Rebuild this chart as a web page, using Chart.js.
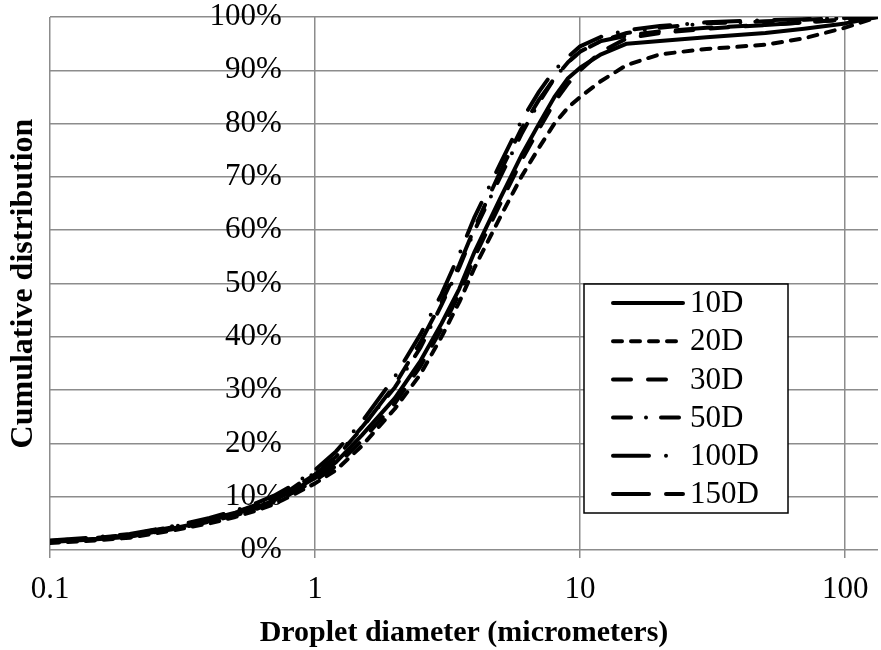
<!DOCTYPE html>
<html>
<head>
<meta charset="utf-8">
<title>Droplet size distribution</title>
<script src="https://cdn.jsdelivr.net/npm/chart.js@4.4.1/dist/chart.umd.min.js"></script>
<style>
  html, body { margin: 0; padding: 0; background: #fff; }
  #wrap { width: 881px; height: 650px; position: relative; }
</style>
</head>
<body>
<div id="wrap"><canvas id="chart"></canvas></div>
<script>
// droplet diameters (micrometers), shared by all series
const diameters = [0.1, 0.15, 0.2, 0.3, 0.4, 0.5, 0.6, 0.7, 0.8, 1, 1.2, 1.5, 2, 2.5, 3, 3.5, 4, 5, 6, 7, 8, 9, 10, 12, 15, 20, 30, 50, 70, 100, 133];

// cumulative distribution (%) for each downstream distance
const d10  = [1.5, 2.0, 2.5, 4.2, 5.5, 6.8, 8.0, 9.3, 10.8, 13.5, 16.5, 21.5, 28.5, 35.5, 42.5, 49.0, 56.0, 66.0, 74.0, 80.0, 85.0, 88.5, 90.5, 93.0, 95.0, 95.5, 96.2, 97.0, 97.8, 98.8, 100];
const d20  = [1.3, 1.8, 2.3, 3.8, 5.0, 6.2, 7.4, 8.6, 10.0, 12.5, 15.0, 19.5, 26.5, 33.0, 40.0, 46.5, 53.0, 62.5, 70.0, 75.5, 80.0, 83.0, 85.0, 88.0, 91.0, 93.0, 94.0, 94.8, 96.0, 98.0, 100];
const d30  = [1.6, 2.1, 2.6, 4.0, 5.3, 6.5, 7.7, 9.0, 10.4, 13.0, 15.8, 20.5, 27.5, 34.5, 41.5, 48.0, 55.0, 65.0, 73.0, 79.0, 84.0, 87.5, 90.0, 93.5, 96.0, 97.0, 97.8, 98.5, 99.0, 99.5, 100];
const d50  = [1.7, 2.3, 2.9, 4.5, 5.8, 7.1, 8.5, 9.8, 11.2, 14.5, 17.5, 23.0, 30.5, 38.0, 46.0, 53.0, 60.0, 70.0, 78.0, 84.0, 88.5, 91.5, 93.5, 95.5, 97.0, 98.0, 98.8, 99.2, 99.5, 99.8, 100];
const d100 = [1.8, 2.4, 3.0, 4.6, 6.0, 7.4, 8.8, 10.2, 11.8, 15.0, 18.5, 24.0, 32.5, 40.5, 48.0, 55.5, 62.5, 72.5, 80.5, 86.0, 90.0, 92.5, 94.5, 96.3, 97.5, 98.3, 99.0, 99.4, 99.6, 99.8, 100];
const d150 = [1.6, 2.2, 2.8, 4.4, 5.7, 7.0, 8.3, 9.6, 11.0, 14.2, 17.3, 22.8, 31.0, 39.0, 46.5, 53.5, 60.5, 71.0, 79.0, 84.5, 88.5, 91.5, 93.5, 95.5, 96.5, 97.3, 98.0, 98.5, 99.0, 99.5, 100];

const seriesLabels = ['10D', '20D', '30D', '50D', '100D', '150D'];
const seriesValues = [d10, d20, d30, d50, d100, d150];

const xTicks = [0.1, 1, 10, 100];
const yTicks = [0, 10, 20, 30, 40, 50, 60, 70, 80, 90, 100];

// line patterns, Excel-like (round caps make dashes look longer)
const dashes = [[], [9, 9], [18, 17], [18, 15, 0, 15], [36, 17, 0, 17], [36, 17, 18, 17]];

const serif = '"Liberation Serif", "Times New Roman", serif';
const gridGray = '#8c8c8c';

const datasets = seriesLabels.map((label, i) => ({
    label: label,
    data: diameters.map((d, j) => ({ x: d, y: seriesValues[i][j] })),
    borderColor: '#000',
    borderWidth: 4,
    borderDash: dashes[i],
    borderCapStyle: 'round',
    borderJoinStyle: 'round',
    pointRadius: 0,
    tension: 0
}));

// boxed legend sitting inside the plot, lower right
const boxLegend = {
    id: 'boxLegend',
    afterDraw(chart) {
        const ctx = chart.ctx;
        const left = 584, top = 284, w = 204, h = 229;
        ctx.save();
        ctx.fillStyle = '#fff';
        ctx.fillRect(left, top, w, h);
        ctx.lineWidth = 1.5;
        ctx.strokeStyle = '#000';
        ctx.strokeRect(left, top, w, h);
        chart.data.datasets.forEach((ds, i) => {
            const y = top + 19 + i * 38.2;
            ctx.beginPath();
            ctx.setLineDash(ds.borderDash);
            ctx.lineCap = 'round';
            ctx.lineWidth = 4;
            ctx.strokeStyle = '#000';
            ctx.moveTo(left + 29, y);
            ctx.lineTo(left + 99, y);
            ctx.stroke();
            ctx.setLineDash([]);
            ctx.fillStyle = '#000';
            ctx.font = '31px ' + serif;
            ctx.textBaseline = 'middle';
            ctx.textAlign = 'left';
            ctx.fillText(ds.label, left + 106, y + 1);
        });
        ctx.restore();
    }
};

new Chart(document.getElementById('chart'), {
    type: 'line',
    data: { datasets: datasets },
    options: {
        responsive: true,
        maintainAspectRatio: false,
        animation: false,
        layout: { padding: { top: 17, right: 3, bottom: 0, left: 0 } },
        plugins: {
            legend: { display: false },
            tooltip: { enabled: false }
        },
        scales: {
            x: {
                type: 'logarithmic',
                min: 0.1,
                max: 133,
                afterBuildTicks: axis => { axis.ticks = xTicks.map(v => ({ value: v })); },
                afterFit: axis => {
                    axis.height = 100;
                    axis.paddingLeft = 0;
                    axis.paddingRight = 0;
                },
                ticks: {
                    color: '#000',
                    font: { family: serif, size: 31 },
                    padding: 13,
                    maxRotation: 0,
                    autoSkip: false,
                    callback: v => String(v)
                },
                grid: { color: gridGray, lineWidth: 1.5, tickLength: 8, tickColor: gridGray },
                border: { display: false },
                title: {
                    display: true,
                    text: 'Droplet diameter (micrometers)',
                    color: '#000',
                    font: { family: serif, size: 30, weight: 'bold', lineHeight: 1 },
                    padding: { top: 0, bottom: 2 }
                }
            },
            y: {
                type: 'linear',
                axis: 'y',
                // Excel crosses the value axis at x = 1; labels end a little left of it
                position: { x: 0.75 },
                min: 0,
                max: 100,
                afterBuildTicks: axis => { axis.ticks = yTicks.map(v => ({ value: v })); },
                afterFit: axis => {
                    axis.paddingTop = 0;
                    axis.paddingBottom = 0;
                },
                ticks: {
                    color: '#000',
                    font: { family: serif, size: 31 },
                    callback: v => v + '%'
                },
                grid: { color: gridGray, lineWidth: 1.5, drawTicks: false },
                border: { display: false }
            },
            yTitle: {
                type: 'linear',
                axis: 'y',
                position: 'left',
                display: true,
                afterFit: axis => {
                    axis.width = 50;
                    axis.paddingTop = 0;
                    axis.paddingBottom = 0;
                },
                ticks: { display: false },
                grid: { display: false, drawTicks: false },
                border: { display: false },
                title: {
                    display: true,
                    text: 'Cumulative distribution',
                    color: '#000',
                    font: { family: serif, size: 32, weight: 'bold', lineHeight: 1 },
                    padding: { top: 8, bottom: 0 }
                }
            }
        }
    },
    plugins: [boxLegend]
});
</script>
</body>
</html>
